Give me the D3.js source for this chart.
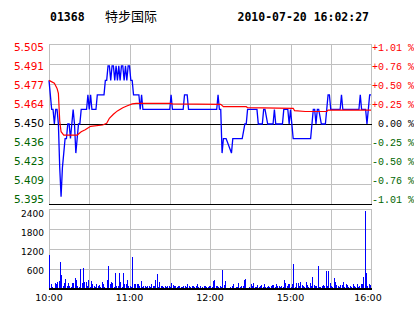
<!DOCTYPE html>
<html>
<head>
<meta charset="utf-8">
<script src="https://cdn.jsdelivr.net/npm/d3@7/dist/d3.min.js"></script>
<style>
	body { margin: 0; background: #fff; }
	svg { display: block; }
</style>
</head>
<body>
<div id="chart"></div>
<script>

var stockCode = "01368";
var stockName = "特步国际";
var stampText = "2010-07-20 16:02:27";

var priceTicks = [5.505, 5.491, 5.477, 5.464, 5.450, 5.436, 5.423, 5.409, 5.395];
var pctTicks = ["+1.01 %", "+0.76 %", "+0.50 %", "+0.25 %", " 0.00 %", "-0.25 %", "-0.50 %", "-0.76 %", "-1.01 %"];
var volTicks = [2400, 1800, 1200, 600];
var timeLabels = ["10:00", "11:00", "12:00", "15:00", "16:00"];
var timeLabelMinutes = [0, 60, 120, 180, 240];

// [minute from open, price]
var priceLine = [
	[0,5.48],[1,5.47],[2,5.46],[3,5.46],[4,5.45],[5,5.46],[6,5.46],[7,5.45],[8,5.42],[9,5.40],
	[10,5.42],[11,5.43],[12,5.44],[13,5.44],[14,5.45],[15,5.45],[16,5.44],[17,5.45],[18,5.46],[19,5.45],
	[20,5.43],[21,5.44],[22,5.45],[23,5.45],[24,5.46],[28,5.46],[29,5.47],[30,5.46],[31,5.47],[32,5.46],
	[35,5.46],[36,5.47],[41,5.47],[42,5.48],[43,5.48],[44,5.49],[45,5.49],[46,5.48],[47,5.49],[48,5.49],
	[49,5.48],[50,5.49],[51,5.48],[52,5.49],[53,5.48],[54,5.49],[55,5.49],[56,5.48],[57,5.49],[58,5.48],
	[59,5.49],[60,5.49],[61,5.48],[62,5.48],[63,5.47],[67,5.47],[68,5.46],[69,5.47],[70,5.46],[90,5.46],
	[91,5.47],[92,5.46],[100,5.46],[101,5.47],[103,5.47],[104,5.46],[125,5.46],[126,5.47],[127,5.46],[128,5.46],
	[129,5.43],[130,5.44],[132,5.44],[136,5.43],[137,5.44],[144,5.44],[146,5.45],[147,5.45],[148,5.46],[155,5.46],
	[156,5.45],[159,5.45],[160,5.46],[161,5.46],[163,5.45],[167,5.45],[168,5.46],[169,5.45],[174,5.45],[175,5.46],
	[178,5.46],[179,5.45],[180,5.46],[181,5.45],[182,5.44],[195,5.44],[196,5.45],[197,5.46],[198,5.46],[199,5.45],
	[200,5.46],[201,5.46],[203,5.45],[206,5.45],[207,5.46],[208,5.47],[209,5.47],[210,5.46],[217,5.46],[218,5.47],
	[219,5.46],[231,5.46],[232,5.47],[233,5.46],[236,5.46],[237,5.45],[238,5.46],[239,5.47],[240,5.47]
];

// [minute from open, average price]
var avgLine = [
	[0,5.480],[4,5.478],[6,5.4745],[7,5.471],[8,5.452],[9,5.4447],[11,5.4424],[21,5.4424],[24,5.4447],[27,5.4461],
	[31,5.4484],[40,5.4493],[43,5.4505],[45,5.4539],[48,5.4567],[51,5.459],[55,5.4612],[58,5.4624],[62,5.4638],[65,5.4642],
	[90,5.4642],[92,5.4638],[128,5.4635],[130,5.4619],[147,5.4619],[148,5.4612],[182,5.4608],[183,5.4592],[191,5.4586],[207,5.4586],
	[208,5.4596],[240,5.4596]
];

// volume per minute
var volumes = [
	1020,140,60,40,170,140,220,240,820,420, 100,170,300,100,170,100,60,170,170,320,
	270,100,60,600,170,630,200,220,100,260, 60,240,140,100,60,140,100,120,60,200,
	160,60,40,260,690,160,200,180,60,470, 100,100,480,200,60,480,140,160,260,100,
	100,60,950,160,140,140,140,80,230,60, 80,80,60,80,80,60,140,100,80,260,
	440,60,200,80,80,60,80,60,100,100, 60,170,120,80,80,60,80,80,60,60,
	80,80,60,140,80,60,100,80,60,80, 160,60,80,40,60,80,80,60,60,80,
	80,60,240,260,80,80,60,80,60,570, 120,240,40,40,40,60,80,140,40,60,
	60,180,60,80,80,270,300,40,40,60, 140,80,180,60,60,120,60,80,120,60,
	160,60,60,100,60,80,120,120,60,140, 80,80,60,80,60,260,180,80,140,140,
	60,140,750,60,180,180,80,200,120,80, 60,200,120,60,180,80,360,120,80,80,
	690,60,60,80,120,80,540,80,540,180, 80,60,320,200,120,80,60,120,120,200,
	60,140,120,60,80,60,160,80,60,160, 60,80,160,140,360,2340,480,80,160,120
];

var width = 414, height = 314;
var left = 49, right = 371;
var priceTop = 44, priceBottom = 204;
var volTop = 209, volBottom = 289;

var svg = d3.select("#chart").append("svg")
	.attr("width", width)
	.attr("height", height)
	.style("background", "#fff");

var x = d3.scaleLinear().domain([0, 240]).range([left, right]);
var yPrice = d3.scaleLinear().domain([5.395, 5.505]).range([priceBottom, priceTop]);
var yRow = d3.scaleLinear().domain([0, priceTicks.length - 1]).range([priceTop, priceBottom]);
var yVol = d3.scaleLinear().domain([0, 2400]).range([volBottom, volTop]);

// labels sit inside the panel: first one below the top row, last one above the bottom row
var priceLabelY = d3.scaleLinear().domain([0, priceTicks.length - 1]).range([51, 203]);
var volLabelY = d3.scaleLinear().domain([0, volTicks.length - 1]).range([216.7, 274]);

// header
svg.append("text")
	.attr("x", 50).attr("y", 20.5)
	.style("font", "bold 11.5px 'DejaVu Sans Mono', monospace")
	.style("fill", "#000")
	.text(stockCode);
svg.append("text")
	.attr("x", 105).attr("y", 20.5)
	.style("font", "13px 'Noto Sans CJK SC', sans-serif")
	.style("fill", "#000")
	.text(stockName);
svg.append("text")
	.attr("x", 237.5).attr("y", 20.5)
	.style("font", "bold 11.5px 'DejaVu Sans Mono', monospace")
	.style("fill", "#000")
	.text(stampText);

var grid = svg.append("g")
	.attr("shape-rendering", "crispEdges");

// vertical grid, both panels
var gridMinutes = d3.range(0, 241, 30);
[[priceTop, priceBottom], [volTop, volBottom]].forEach(function(p) {
	grid.selectAll(null)
		.data(gridMinutes)
		.enter().append("line")
		.attr("x1", function(d) { return Math.round(x(d)) + 0.5; })
		.attr("x2", function(d) { return Math.round(x(d)) + 0.5; })
		.attr("y1", p[0])
		.attr("y2", p[1])
		.style("stroke", "#c0c0c0")
		.style("stroke-width", 1);
});

// price rows
grid.selectAll(null)
	.data(priceTicks)
	.enter().append("line")
	.attr("x1", left)
	.attr("x2", right + 1)
	.attr("y1", function(d, i) { return yRow(i) + 0.5; })
	.attr("y2", function(d, i) { return yRow(i) + 0.5; })
	.style("stroke", function(d, i) { return (i == 4 || i == 8) ? "#000" : "#c0c0c0"; })
	.style("stroke-width", function(d, i) { return i == 8 ? 1.5 : 1; });

// volume rows
grid.selectAll(null)
	.data(volTicks)
	.enter().append("line")
	.attr("x1", left)
	.attr("x2", right + 1)
	.attr("y1", function(d) { return yVol(d) + 0.5; })
	.attr("y2", function(d) { return yVol(d) + 0.5; })
	.style("stroke", "#c0c0c0")
	.style("stroke-width", 1);

// price axis labels
var rowColor = function(i) { return i < 4 ? "#ff0000" : (i == 4 ? "#000" : "#006600"); };

svg.selectAll(null)
	.data(priceTicks)
	.enter().append("text")
	.attr("x", 44)
	.attr("y", function(d, i) { return priceLabelY(i); })
	.attr("text-anchor", "end")
	.style("font", "10.5px 'DejaVu Sans', sans-serif")
	.style("fill", function(d, i) { return rowColor(i); })
	.text(function(d) { return d3.format(".3f")(d); });

svg.selectAll(null)
	.data(pctTicks)
	.enter().append("text")
	.attr("x", 372)
	.attr("y", function(d, i) { return priceLabelY(i) - 0.5; })
	.style("font", "10px 'Liberation Mono', monospace")
	.style("white-space", "pre")
	.style("fill", function(d, i) { return rowColor(i); })
	.text(function(d) { return d; });

// volume axis labels
svg.selectAll(null)
	.data(volTicks)
	.enter().append("text")
	.attr("x", 44)
	.attr("y", function(d, i) { return volLabelY(i); })
	.attr("text-anchor", "end")
	.style("font", "9px 'DejaVu Sans', sans-serif")
	.style("fill", "#000")
	.text(function(d) { return d; });

// time labels
svg.selectAll(null)
	.data(timeLabels)
	.enter().append("text")
	.attr("x", function(d, i) { return x(timeLabelMinutes[i]) - (i == timeLabels.length - 1 ? 3 : 0); })
	.attr("y", 301)
	.attr("text-anchor", "middle")
	.style("font", "9.5px 'DejaVu Sans', sans-serif")
	.style("fill", "#000")
	.text(function(d) { return d; });

// volume bars
svg.append("g")
	.attr("shape-rendering", "crispEdges")
	.selectAll("rect")
	.data(volumes)
	.enter().append("rect")
	.attr("x", function(d, i) { return x(i) + 0.3; })
	.attr("width", 1)
	.attr("y", function(d) { return yVol(d); })
	.attr("height", function(d) { return volBottom - yVol(d); })
	.style("fill", "#0000ff");

// volume baseline
svg.append("line")
	.attr("x1", left).attr("x2", right + 1)
	.attr("y1", volBottom).attr("y2", volBottom)
	.style("stroke", "#000")
	.style("stroke-width", 2);

var line = d3.line()
	.x(function(d) { return x(d[0]); })
	.y(function(d) { return yPrice(d[1]); });

svg.append("path")
	.datum(priceLine)
	.attr("d", line)
	.style("fill", "none")
	.style("stroke", "#0000ff")
	.style("stroke-width", 1.3);

svg.append("path")
	.datum(avgLine)
	.attr("d", line)
	.style("fill", "none")
	.style("stroke", "#ff0000")
	.style("stroke-width", 1.2);

</script>
</body>
</html>
